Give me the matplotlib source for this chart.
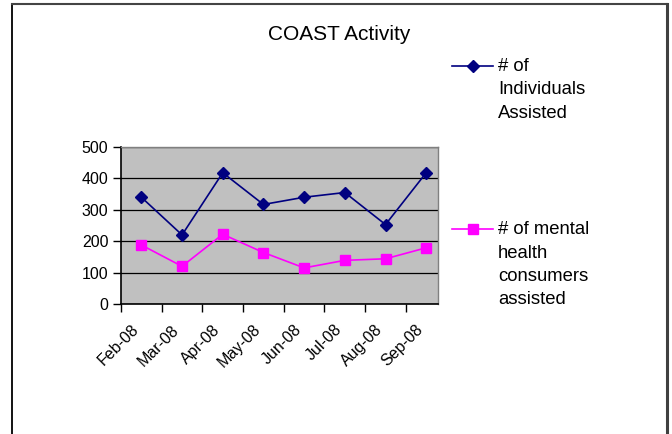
import matplotlib
matplotlib.use('Agg')
import matplotlib.pyplot as plt
import matplotlib.transforms as mtrans
from matplotlib.lines import Line2D

plt.rcParams['font.family'] = ['Liberation Sans', 'DejaVu Sans']

months = ['Feb-08', 'Mar-08', 'Apr-08', 'May-08', 'Jun-08', 'Jul-08', 'Aug-08', 'Sep-08']
individuals = [340, 220, 418, 317, 340, 355, 253, 418]
mental_health = [188, 120, 222, 164, 115, 139, 144, 179]
series_labels = ['# of\nIndividuals\nAssisted', '# of mental\nhealth\nconsumers\nassisted']
yticks = [0, 100, 200, 300, 400, 500]

W, H = 672, 434
fig = plt.figure(figsize=(W / 100, H / 100), dpi=100)

def fx(px):
    return px / W

def fy(py):
    return 1 - py / H

# outer chart frame (open at the bottom, as in the screenshot)
fig.add_artist(Line2D([fx(12), fx(12)], [fy(4), -0.1], color='black', lw=1.3))
fig.add_artist(Line2D([fx(12), fx(667)], [fy(4), fy(4)], color='#444444', lw=1.5))
fig.add_artist(Line2D([fx(667), fx(667)], [fy(4), -0.1], color='#404040', lw=2.2))

ax = fig.add_axes([fx(121), fy(304), fx(438 - 121), (304 - 147) / H])
ax.set_facecolor('#C0C0C0')

x = list(range(len(months)))
ax.plot(x, individuals, color='#000080', lw=1.2, marker='D', markersize=6.5,
        markerfacecolor='#000080', markeredgecolor='#000080', zorder=3)
ax.plot(x, mental_health, color='#FF00FF', lw=1.2, marker='s', markersize=7,
        markerfacecolor='#FF00FF', markeredgecolor='#FF00FF', zorder=3)

# the plot area is clipped a little short of the last category boundary
ax.set_xlim(-0.5, len(months) - 0.71)
ax.set_ylim(0, 500)
ax.set_yticks(yticks)
ax.set_yticklabels([str(v) for v in yticks], fontsize=11.5)
ax.yaxis.grid(True, color='black', lw=0.9)
ax.set_axisbelow(True)

# tick marks between categories, labels at centres
ax.set_xticks([i - 0.5 for i in range(len(months))])
ax.set_xticklabels([])
ax.set_xticks(x, minor=True)
ax.set_xticklabels(months, minor=True, rotation=45, ha='right', fontsize=11.5)
shift = mtrans.ScaledTranslation(-7 / 100, 0, fig.dpi_scale_trans)
for lab in ax.get_xticklabels(minor=True):
    lab.set_transform(lab.get_transform() + shift)
ax.tick_params(axis='x', which='minor', length=0, pad=13)
ax.tick_params(axis='x', which='major', length=6, width=1, direction='out')
ax.tick_params(axis='y', length=6, width=1, direction='out', pad=3)

for side in ['left', 'bottom']:
    ax.spines[side].set_color('black')
    ax.spines[side].set_linewidth(1.2)
for side in ['top', 'right']:
    ax.spines[side].set_color('#808080')
    ax.spines[side].set_linewidth(1.0)

fig.text(fx(339), fy(35), 'COAST Activity', fontsize=15, ha='center', va='center')

# legend drawn by hand: marker on the first line of each label
legend_items = [('#000080', 'D', 6, 66, 58), ('#FF00FF', 's', 6.5, 229, 221)]
for (col, mk, ms, ly, ty), lab in zip(legend_items, series_labels):
    fig.add_artist(Line2D([fx(452), fx(493)], [fy(ly), fy(ly)], color=col, lw=1.2))
    fig.add_artist(Line2D([fx(472.5)], [fy(ly)], color=col, marker=mk, markersize=ms,
                          markerfacecolor=col, markeredgecolor=col))
    fig.text(fx(498), fy(ty), lab, fontsize=13.3, ha='left', va='top', linespacing=1.5)

fig.savefig('out.png', dpi=100)
